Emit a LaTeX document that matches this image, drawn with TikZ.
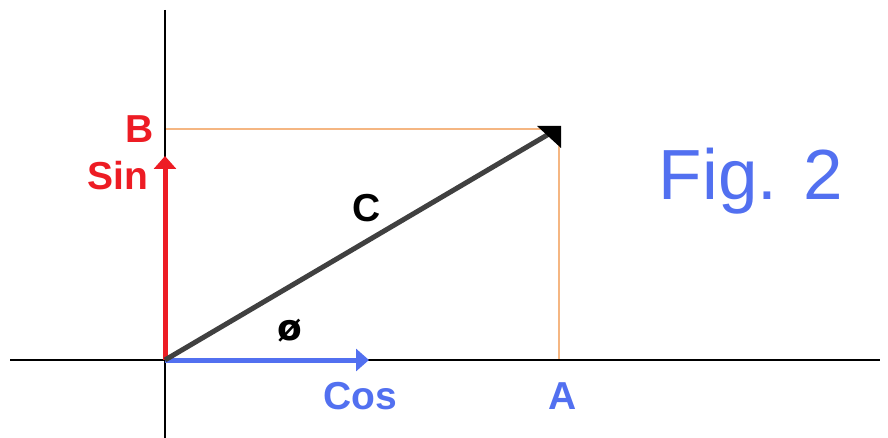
\documentclass[tikz,border=0pt]{standalone}
\usepackage{fontspec}
\setmainfont{Liberation Sans}
\newfontfamily\symfont{DejaVu Sans}
\usetikzlibrary{arrows.meta}
\definecolor{redS}{RGB}{237,28,36}
\definecolor{blueC}{RGB}{82,112,240}
\definecolor{orangeL}{RGB}{245,182,130}
\definecolor{darkV}{RGB}{64,64,64}
\tikzset{
  axis/.style={draw=black,line width=1.4pt},
  guide/.style={draw=orangeL,line width=1.3pt},
  vec/.style={line width=5pt,-{Triangle[length=13pt,width=22pt]}},
  lbl/.style={font=\fontsize{39}{42}\selectfont\bfseries,inner sep=0pt},
}
\begin{document}
\begin{tikzpicture}[x=1pt,y=-1pt]
\useasboundingbox (0,0) rectangle (888,438);
% coordinates
\coordinate (O) at (165,360);
\coordinate (Yt) at (165,10);
\coordinate (Yb) at (165,438);
\coordinate (Xl) at (10,360);
\coordinate (Xr) at (880,360);
\coordinate (Bp) at (165,129);
\coordinate (Ap) at (559,360);
\coordinate (P) at (559,129);
\coordinate (SinTip) at (165,156);
\coordinate (CosTip) at (369,360);
\coordinate (Ctip) at (554,131);
% guides
\draw[guide] (Bp) -- (P) -- (Ap);
% axes
\draw[axis] (Yt) -- (Yb);
\draw[axis] (Xl) -- (Xr);
% vectors
\draw[vec,draw=redS,fill=redS] (O) -- (SinTip);
\draw[vec,draw=blueC,fill=blueC] (O) -- (CosTip);
\draw[line width=5pt,darkV] (O) -- (Ctip);
\fill[black] (537,126) -- (561,126) -- (561,148) -- cycle;
% labels
\node[lbl,text=redS] (B) at (140,129) {B};
\node[lbl,text=redS] (Sin) at (118,176) {Sin};
\node[lbl,text=black] (C) at (367,208) {C};
\node[inner sep=0pt,text=black,font=\symfont\fontsize{36}{40}\selectfont\bfseries] (phi) at (290,331) {ø};
\node[lbl,text=blueC] (Cos) at (360,396) {Cos};
\node[lbl,text=blueC] (A) at (563,396) {A};
\node[inner sep=0pt,text=blueC,font=\fontsize{71}{80}\selectfont] (fig) at (751,181) {Fig. 2};
\end{tikzpicture}
\end{document}
